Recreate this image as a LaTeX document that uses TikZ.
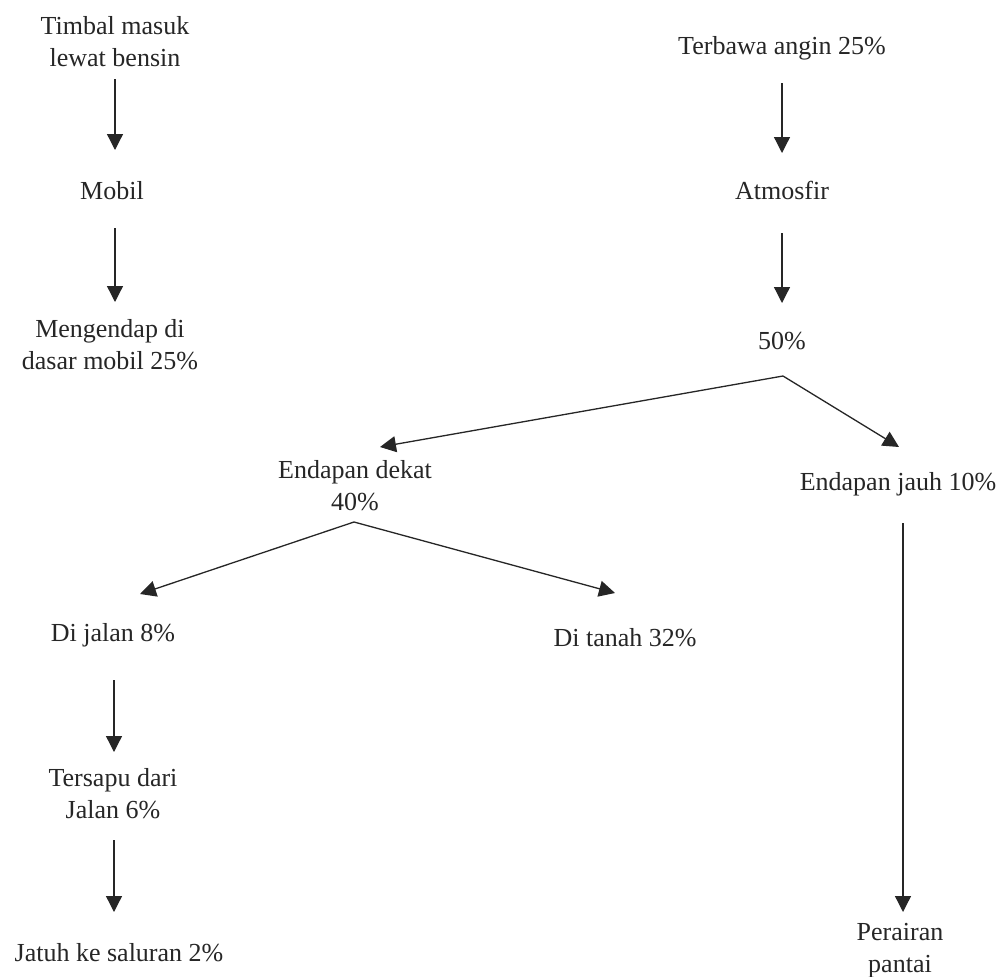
\documentclass[tikz,border=0pt]{standalone}
\usepackage{fontspec}
\setmainfont{Liberation Serif}
\usetikzlibrary{arrows.meta,calc}
\newcommand\lnst{\rule[-3pt]{0pt}{24pt}}
\begin{document}
\begin{tikzpicture}[x=1pt,y=-1pt,
  lbl/.style={inner sep=0pt, align=center, text=black!85, font=\fontsize{26}{32}\selectfont},
  arr/.style={draw=black!85, line width=1.3pt, -{Triangle[width=16pt,length=16pt]}}]
\useasboundingbox[fill=white] (0,0) rectangle (1007,977);
% nodes
\node[lbl] (timbal) at (115,41) {\lnst Timbal masuk\\\lnst lewat bensin};
\node[lbl] (mobil) at (112,190) {\lnst Mobil};
\node[lbl] (mengendap) at (110,344) {\lnst Mengendap di\\\lnst dasar mobil 25\%};
\node[lbl] (terbawa) at (782,47) {\lnst Terbawa angin 25\%};
\node[lbl] (atmosfir) at (782,190) {\lnst Atmosfir};
\node[lbl] (lima) at (782,340) {\lnst 50\%};
\node[lbl] (dekat) at (355,485) {\lnst Endapan dekat\\\lnst 40\%};
\node[lbl] (jauh) at (898,483) {\lnst Endapan jauh 10\%};
\node[lbl] (jalan) at (113,634) {\lnst Di jalan 8\%};
\node[lbl] (tanah) at (625,637) {\lnst Di tanah 32\%};
\node[lbl] (tersapu) at (113,793) {\lnst Tersapu dari\\\lnst Jalan 6\%};
\node[lbl] (jatuh) at (119,952) {\lnst Jatuh ke saluran 2\%};
\node[lbl] (perairan) at (900,949) {\lnst Perairan\\\lnst pantai};
% branch points
\coordinate (b1) at ($(lima.center)+(1,36)$);
\coordinate (b2) at ($(dekat.center)+(-1,37)$);
% connectors
\draw[arr] ($(timbal.center)+(0,38)$) -- ($(mobil.center)+(3,-40)$);
\draw[arr] ($(mobil.center)+(3,38)$) -- ($(mengendap.center)+(5,-42)$);
\draw[arr] ($(terbawa.center)+(0,36)$) -- ($(atmosfir.center)+(0,-37)$);
\draw[arr] ($(atmosfir.center)+(0,43)$) -- ($(lima.center)+(0,-37)$);
\draw[arr] (b1) -- ($(dekat.center)+(25,-38)$);
\draw[arr] (b1) -- ($(jauh.center)+(1,-36)$);
\draw[arr] (b2) -- ($(jalan.center)+(27,-40)$);
\draw[arr] (b2) -- ($(tanah.center)+(-10,-44)$);
\draw[arr] ($(jauh.center)+(5,40)$) -- ($(perairan.center)+(3,-37)$);
\draw[arr] ($(jalan.center)+(1,46)$) -- ($(tersapu.center)+(1,-41)$);
\draw[arr] ($(tersapu.center)+(1,47)$) -- ($(jatuh.center)+(-5,-40)$);
\end{tikzpicture}
\end{document}
